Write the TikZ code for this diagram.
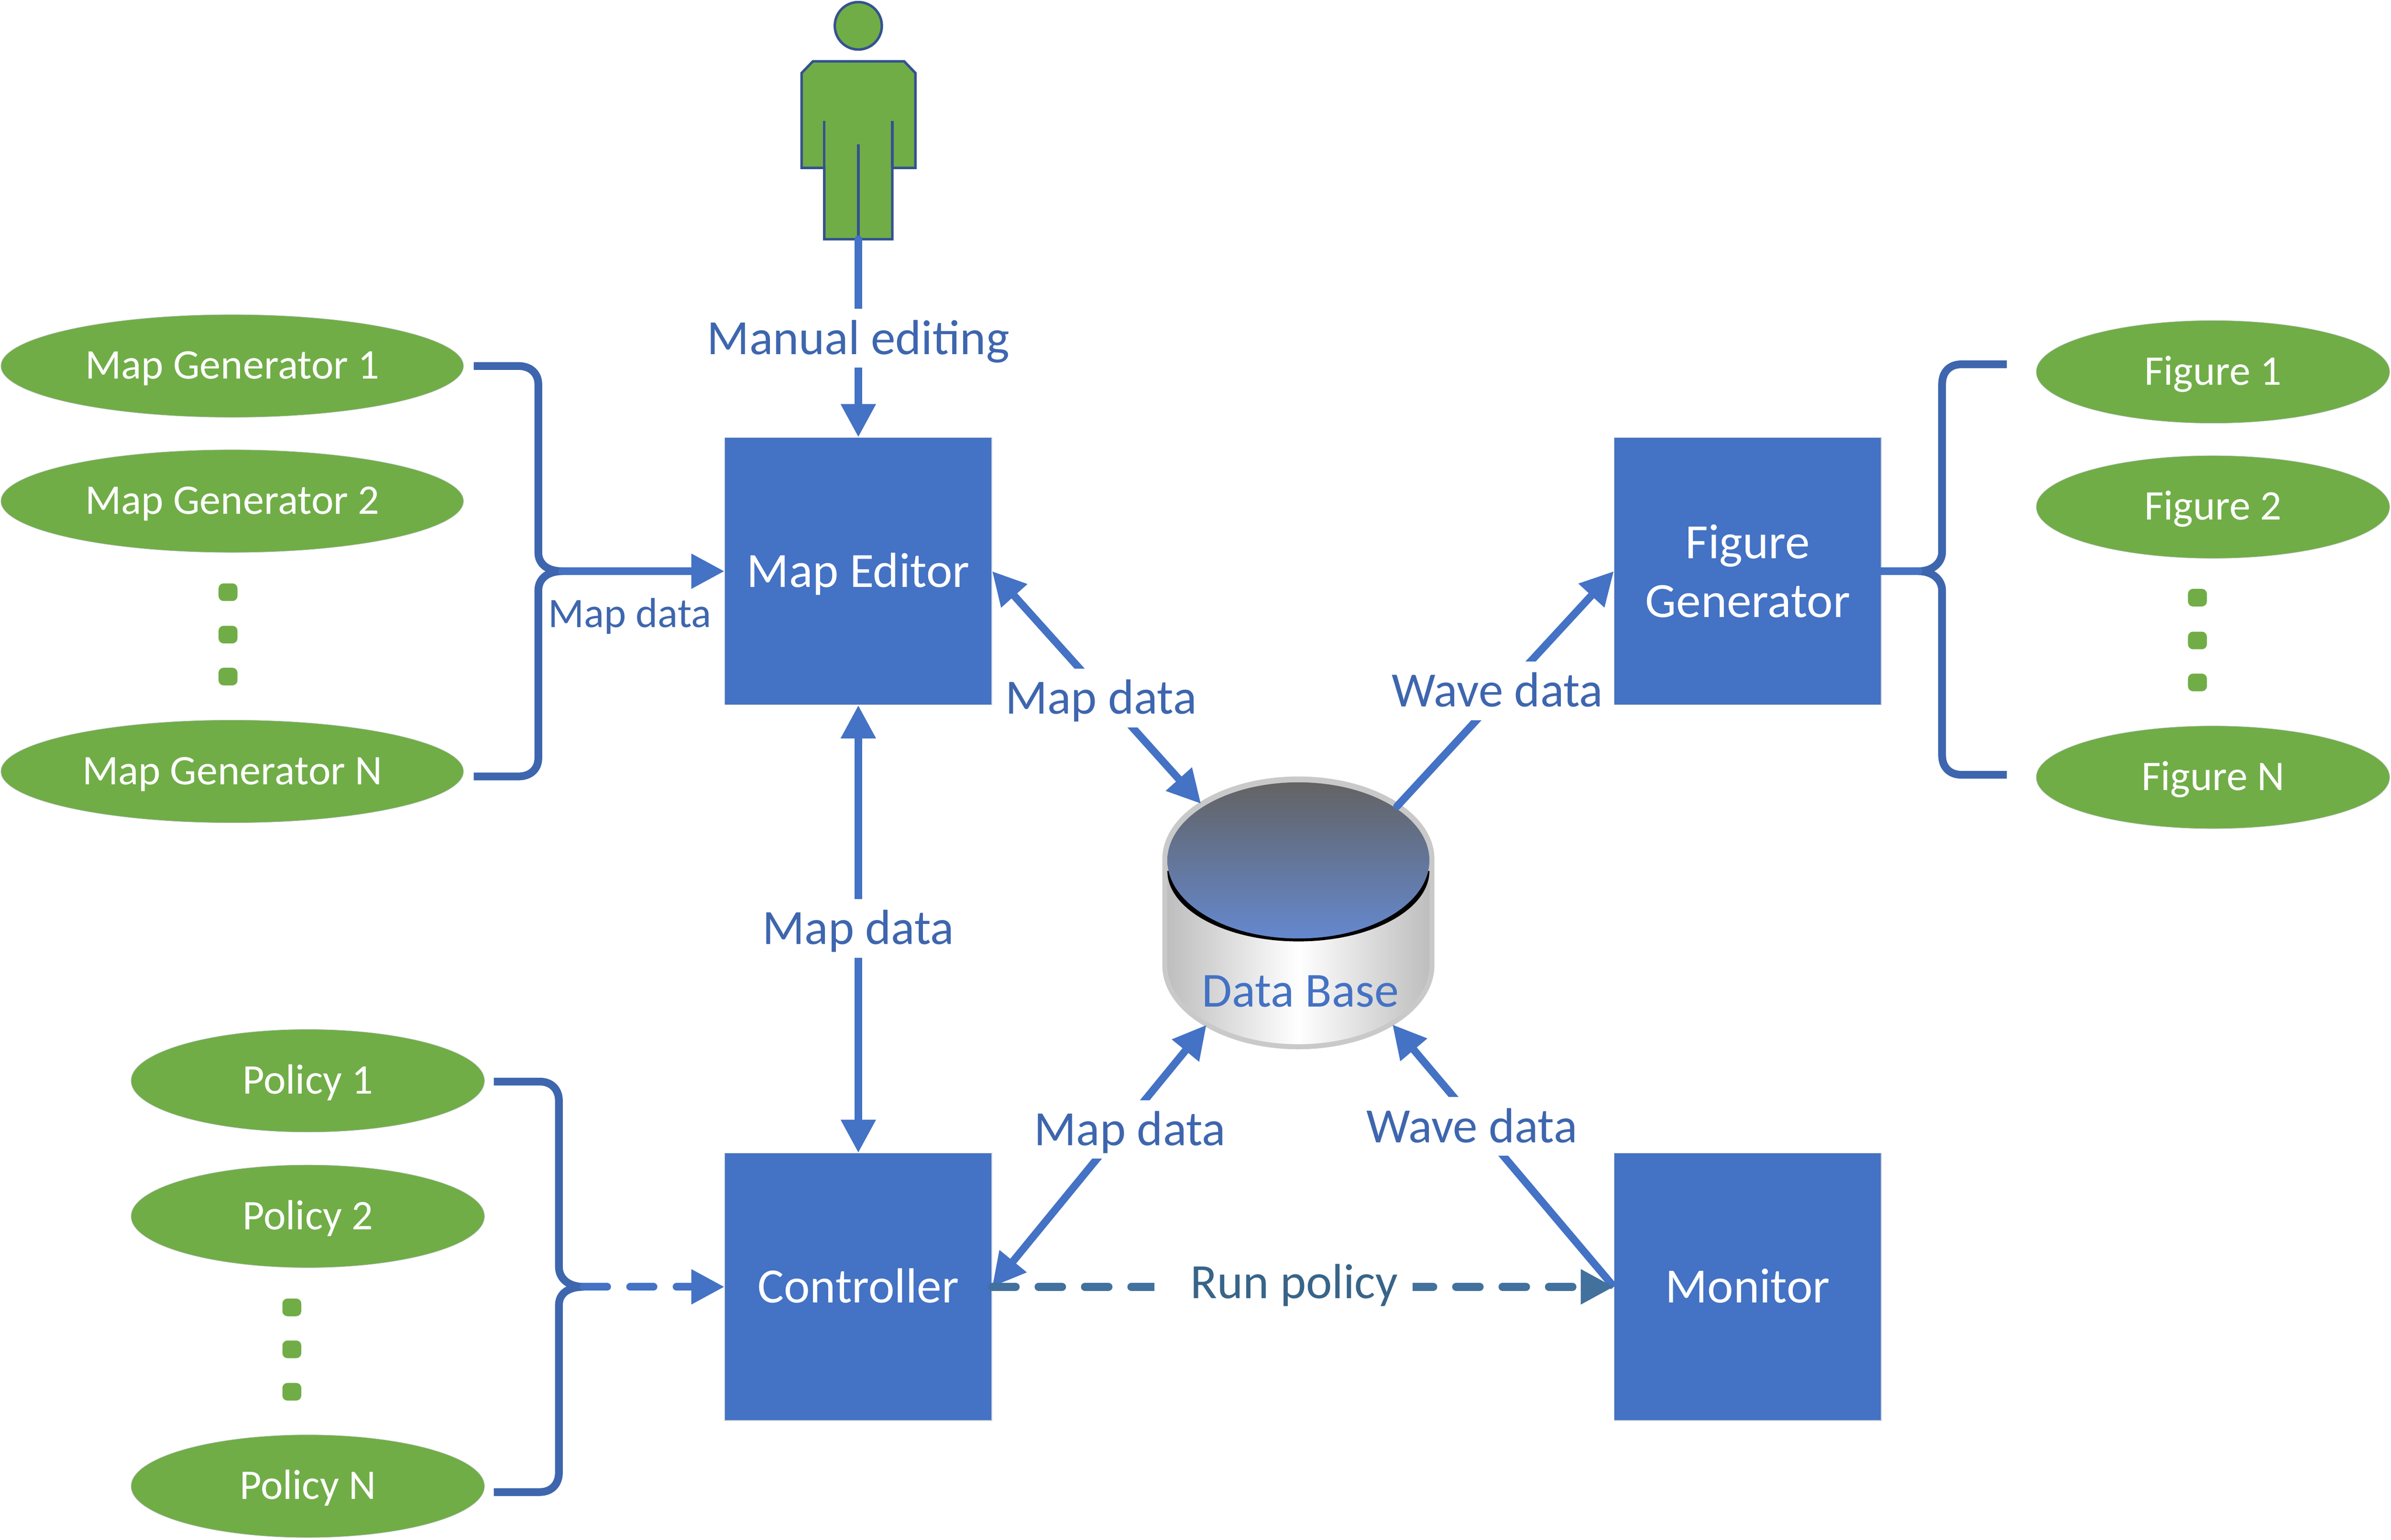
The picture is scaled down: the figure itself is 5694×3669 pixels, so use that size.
\documentclass[tikz,border=0pt]{standalone}
\usepackage{fontspec}
\setmainfont{Carlito}
\usetikzlibrary{arrows.meta,shapes.geometric}
\definecolor{boxblue}{HTML}{4472C4}
\definecolor{bracecol}{HTML}{3E66AE}
\definecolor{leaf}{HTML}{70AD47}
\definecolor{outl}{HTML}{35528F}
\definecolor{runcol}{HTML}{41719C}
\definecolor{runtxt}{HTML}{386488}
\definecolor{rim}{HTML}{C9C9C9}
\definecolor{bodyedge}{HTML}{BEBEBE}
\definecolor{lidtop}{HTML}{636363}
\definecolor{lidbot}{HTML}{6488CE}
\definecolor{hair}{HTML}{C8CCD4}
\tikzset{
  bigbox/.style={rectangle,fill=boxblue,draw=hair,line width=.15pt,minimum width=63.6pt,minimum height=63.7pt,inner sep=0pt,text=white,align=center,font=\fontsize{11.75pt}{14pt}\selectfont},
  oneline/.style={text height=7.6pt,text depth=0pt},
  oval/.style={ellipse,fill=leaf,draw=hair,line width=.1pt,minimum height=24.5pt,inner sep=0pt,text=white,text height=6.2pt,text depth=0pt,font=\fontsize{10.05pt}{12pt}\selectfont},
  mapoval/.style={oval,minimum width=110.2pt},
  smalloval/.style={oval,minimum width=84.2pt},
  vdot/.style={rectangle,rounded corners=1.2pt,fill=leaf,minimum width=4.5pt,minimum height=4.2pt,inner sep=0pt},
  flow/.style={line width=1.8pt,draw=boxblue,fill=none},
  tip/.style={-{Triangle[length=7.9pt,width=7.9pt]}},
  dtip/.style={{Triangle[length=7.9pt,width=7.9pt]}-{Triangle[length=7.9pt,width=7.9pt]}},
  bracepath/.style={line width=1.85pt,draw=bracecol,line join=round},
  lab/.style={fill=white,inner sep=0pt,minimum height=14pt,text=bracecol,text height=7.6pt,text depth=0pt,font=\fontsize{11.75pt}{14pt}\selectfont},
  rundash/.style={line cap=round,dash pattern=on 5.6pt off 5.45pt},
  runline/.style={line width=1.9pt,draw=runcol,rundash},
  figure part/.style={fill=leaf,draw=outl,line width=.6pt,line join=miter},
}
\begin{document}
\begin{tikzpicture}[x=0.1pt,y=-0.1pt]
\useasboundingbox (0,0) rectangle (5694,3669);

% main boxes
\node[bigbox,oneline] (editor) at (2044,1361) {Map Editor};
\node[bigbox] (figgen) at (4162,1361) {Figure\\Generator};
\node[bigbox,oneline] (ctrl) at (2044,3066) {Controller};
\node[bigbox,oneline] (monitor) at (4162,3066) {Monitor};

% ovals
\node[mapoval] (mg1) at (553,872) {Map Generator 1};
\node[mapoval] (mg2) at (553,1194) {Map Generator 2};
\node[mapoval] (mgn) at (553,1838) {Map Generator N};
\node[vdot] (mgd1) at (543,1411) {};
\node[vdot] (mgd2) at (543,1512) {};
\node[vdot] (mgd3) at (543,1612) {};

\node[smalloval] (fg1) at (5270,886) {Figure 1};
\node[smalloval] (fg2) at (5270,1208) {Figure 2};
\node[smalloval] (fgn) at (5270,1852) {Figure N};
\node[vdot] (fgd1) at (5233,1424) {};
\node[vdot] (fgd2) at (5233,1526) {};
\node[vdot] (fgd3) at (5233,1626) {};

\node[smalloval] (po1) at (733,2575) {Policy 1};
\node[smalloval] (po2) at (733,2898) {Policy 2};
\node[smalloval] (pon) at (733,3541) {Policy N};
\node[vdot] (pod1) at (695,3115) {};
\node[vdot] (pod2) at (695,3215) {};
\node[vdot] (pod3) at (695,3316) {};

% person
\draw[figure part] (1909,174) -- (1936,146) -- (2153,146) -- (2180,174) -- (2180,400) -- (2125,400) -- (2125,570) -- (1963,570) -- (1963,400) -- (1909,400) -- cycle;
\draw[outl,line width=.6pt] (1963,288) -- (1963,400) (2125,288) -- (2125,400) (2044,344) -- (2044,570);
\draw[figure part] (2044,61.5) ellipse [x radius=56,y radius=56.5];
\coordinate (foot) at (2044,570);

% data base
\fill[rim] (2768,2047) arc[start angle=180,end angle=360,x radius=324,y radius=197] -- (3416,2300) arc[start angle=0,end angle=180,x radius=324,y radius=200] -- cycle;
\shade[left color=bodyedge,right color=bodyedge,middle color=white] (2780,2080) -- (3404,2080) -- (3404,2300) arc[start angle=0,end angle=180,x radius=312,y radius=188] -- cycle;
\fill[black] (2780,2075) arc[start angle=180,end angle=0,x radius=312,y radius=168] -- cycle;
\shade[top color=lidtop,bottom color=lidbot] (3092,2050) ellipse [x radius=312,y radius=186];
\node[inner sep=0pt,text=boxblue,font=\fontsize{11.65pt}{14pt}\selectfont] (db) at (3097,2362) {Data Base};
\coordinate (dbnw) at (2860,1915);
\coordinate (dbne) at (3327,1921);
\coordinate (dbsw) at (2873,2442);
\coordinate (dbse) at (3316,2441);

% braces
\coordinate (mgtop) at (1128,872);
\coordinate (mgbot) at (1128,1850);
\coordinate (mgtip) at (1339,1361);
\draw[bracepath] (mgtop) -- (1234,872) .. controls (1264,872) and (1282,890) .. (1282,916) -- (1282,1316) .. controls (1282,1345) and (1305,1361) .. (mgtip) .. controls (1305,1361) and (1282,1378) .. (1282,1407) -- (1282,1806) .. controls (1282,1832) and (1264,1850) .. (1234,1850) -- (mgbot);
\draw[flow,tip,line cap=round] (mgtip) -- (editor.west);

\coordinate (fgtop) at (4779,868);
\coordinate (fgbot) at (4779,1846);
\coordinate (fgtip) at (4569,1361);
\draw[bracepath] (fgtop) -- (4671,868) .. controls (4643,868) and (4625,886) .. (4625,915) -- (4625,1314) .. controls (4625,1343) and (4600,1361) .. (fgtip) .. controls (4600,1361) and (4625,1379) .. (4625,1408) -- (4625,1800) .. controls (4625,1828) and (4643,1846) .. (4671,1846) -- (fgbot);
\draw[flow,line cap=round] (figgen.east) -- (fgtip);

\coordinate (potop) at (1176,2577);
\coordinate (pobot) at (1176,3555);
\coordinate (potip) at (1390,3066);
\draw[bracepath] (potop) -- (1285,2577) .. controls (1313,2577) and (1331,2595) .. (1331,2623) -- (1331,3018) .. controls (1331,3048) and (1356,3066) .. (potip) .. controls (1356,3066) and (1331,3080) .. (1331,3110) -- (1331,3508) .. controls (1331,3537) and (1313,3555) .. (1285,3555) -- (pobot);
\draw[flow,tip,rundash] (potip) -- (ctrl.west);

% flows
\draw[flow,tip,line cap=round] (foot) -- (editor.north);
\draw[flow,dtip] (editor.south) -- (ctrl.north);
\draw[flow,dtip] (editor.east) -- (dbnw);
\draw[flow,tip,line cap=round] (dbne) -- (figgen.west);
\draw[flow,dtip] (ctrl.east) -- (dbsw);
\draw[flow,tip] (monitor.west) -- (dbse);
\draw[runline,-{Triangle[length=7.9pt,width=7.9pt]}] (ctrl.east) -- (monitor.west);

% labels
\node[lab] (lmanual) at (2044,806) {Manual editing};
\node[inner sep=0pt,text=bracecol,text height=6.5pt,text depth=0pt,font=\fontsize{10pt}{12pt}\selectfont] (lmap0) at (1500,1462) {Map data};
\node[lab] (lmap1) at (2044,2212) {Map data};
\node[lab] (lmap2) at (2622,1663) {Map data};
\node[lab] (lwave1) at (3566,1646) {Wave data};
\node[lab] (lmap3) at (2691,2691) {Map data};
\node[lab] (lwave2) at (3505,2684) {Wave data};
\node[rectangle,fill=white,inner sep=0pt,minimum width=61.5pt,minimum height=14pt] (runback) at (3057,3055) {};
\node[inner sep=0pt,text=runtxt,text height=7.6pt,text depth=0pt,font=\fontsize{11.75pt}{14pt}\selectfont] (lrun) at (3082,3055) {Run policy};
\end{tikzpicture}
\end{document}
